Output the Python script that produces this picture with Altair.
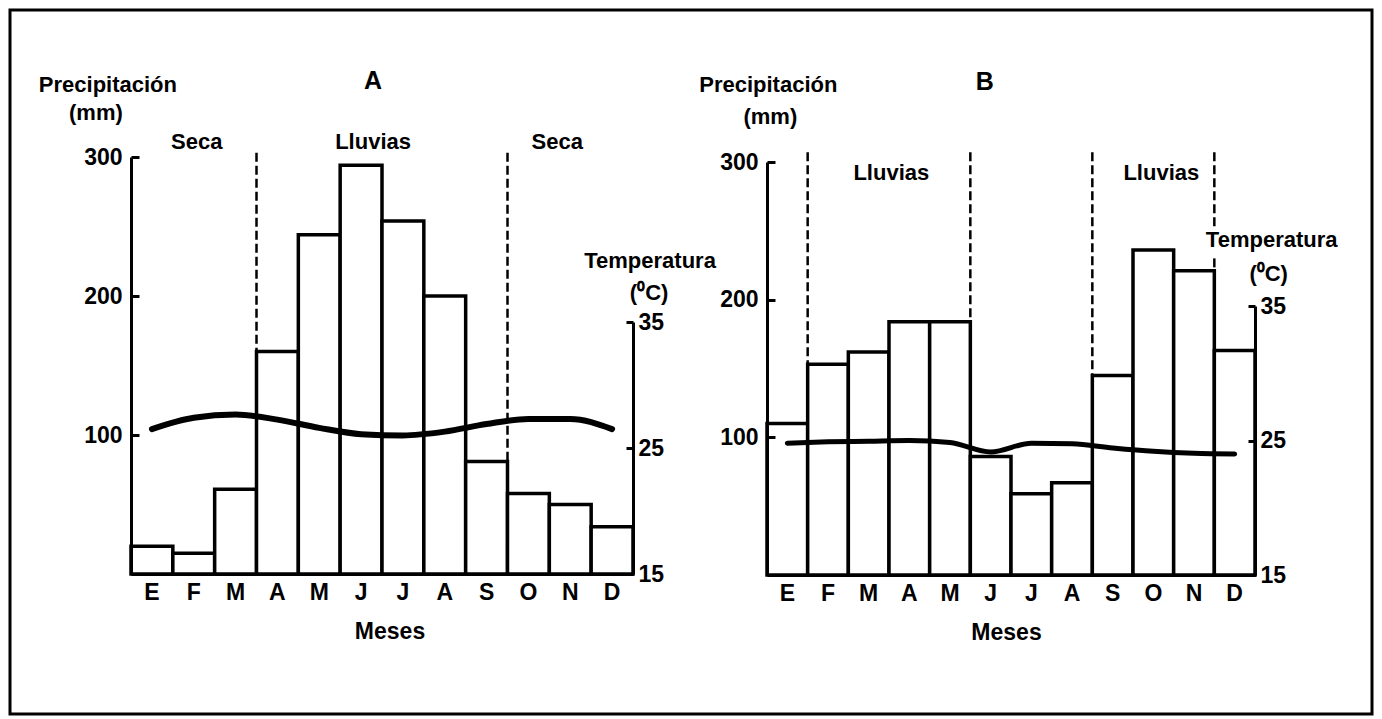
import altair as alt
import pandas as pd

# ---------------- data ----------------
meses = ["Ene", "Feb", "Mar", "Abr", "May", "Jun", "Jul", "Ago", "Sep", "Oct", "Nov", "Dic"]

precip_A = [20, 15, 61, 160, 244, 294, 254, 200, 81, 58, 50, 34]
temp_A = [26.5, 27.4, 27.65, 27.25, 26.6, 26.1, 26.0, 26.3, 26.9, 27.3, 27.3, 26.5]

precip_B = [110, 153, 162, 184, 184, 86, 59, 67, 145, 236, 221, 163]
temp_B = [24.8, 24.9, 24.95, 25.0, 24.85, 24.15, 24.8, 24.75, 24.45, 24.2, 24.05, 24.0]

# season boundaries (left edge of the month), dashed from top down to bars
divisiones_A = ["Abr", "Oct"]
divisiones_B = ["Feb", "Jun", "Sep", "Dic"]

# annotations: text, month anchor, value (mm), dx, font size
anot_A = [
    ("Precipitación", "Ene", 352, -44, 22),
    ("(mm)", "Ene", 332, -56, 22),
    ("A", "Jun", 355, 12, 25),
    ("Seca", "Feb", 311, 3, 22),
    ("Lluvias", "Jun", 311, 12, 22),
    ("Seca", "Nov", 311, -13, 22),
    ("Temperatura", "Dic", 225, 38, 22),
    ("(⁰C)", "Dic", 202, 37, 22),
]
anot_B = [
    ("Precipitación", "Ene", 356, -19, 22),
    ("(mm)", "Ene", 333, -17, 22),
    ("B", "Jun", 358, -6, 25),
    ("Lluvias", "Abr", 292, -18, 22),
    ("Lluvias", "Oct", 292, 8, 22),
    ("Temperatura", "Dic", 243, 37, 22),
    ("(⁰C)", "Dic", 219, 34, 22),
]

FONT = "Liberation Sans"
W, H = 1362, 704


def panel(precip, temp, xr, yr_p, yr_t, divisiones, top_div, gaps, anot, title_x, line_w):
    df = pd.DataFrame({"mes": meses, "precip": precip, "temp": temp,
                       "idx": list(range(len(meses)))})

    xscale = alt.Scale(domain=meses, range=xr, paddingInner=0, paddingOuter=0)
    pscale = alt.Scale(domain=[0, 300], range=yr_p, nice=False, zero=True)
    tscale = alt.Scale(domain=[15, 35], range=yr_t, nice=False, zero=False)

    x_axis = alt.Axis(
        orient="bottom", offset=yr_p[0] - H, ticks=False, domain=True,
        domainColor="black", domainWidth=3, grid=False,
        labelExpr="slice(datum.label, 0, 1)", labelAngle=0,
        labelFont=FONT, labelFontWeight="bold", labelFontSize=23,
        labelColor="black", labelPadding=7,
        title="Meses", titleFont=FONT, titleFontWeight="bold", titleFontSize=23,
        titleColor="black", titleX=title_x, titleY=57, titleAlign="center",
        titleBaseline="middle", zindex=1,
    )
    p_axis = alt.Axis(
        orient="right", offset=xr[0] - W, values=[100, 200, 300],
        tickSize=8, tickWidth=3, tickColor="black", domainColor="black",
        domainWidth=3, grid=False, labelAlign="right", labelPadding=-17,
        labelBaseline="middle", labelFont=FONT, labelFontWeight="bold",
        labelFontSize=23, labelColor="black", title=None, zindex=1,
    )
    t_axis = alt.Axis(
        orient="left", offset=-xr[1], values=[15, 25, 35],
        tickSize=7, tickWidth=3, tickColor="black", domainColor="black",
        domainWidth=3, grid=False, labelAlign="left", labelPadding=-12,
        labelBaseline="middle", labelFont=FONT, labelFontWeight="bold",
        labelFontSize=23, labelColor="black", title=None, zindex=1,
    )

    X = alt.X("mes:N", scale=xscale, axis=x_axis)
    bars = alt.Chart(df).mark_bar(fill="white", stroke="black", strokeWidth=3.5).encode(
        x=X, y=alt.Y("precip:Q", scale=pscale, axis=p_axis)
    )

    rows = []
    for m in divisiones:
        i = meses.index(m)
        low = max(precip[i - 1], precip[i])
        cuts = gaps.get(m)
        if cuts:
            rows.append({"mes": m, "top": top_div, "bottom": cuts[0]})
            rows.append({"mes": m, "top": cuts[1], "bottom": low})
        else:
            rows.append({"mes": m, "top": top_div, "bottom": low})
    ddf = pd.DataFrame(rows)
    dashed = alt.Chart(ddf).mark_rule(color="black", strokeWidth=2.5, strokeDash=[9, 4]).encode(
        x=alt.X("mes:N", scale=xscale, axis=x_axis, bandPosition=0),
        y=alt.Y("top:Q", scale=pscale, axis=p_axis),
        y2="bottom:Q",
    )

    texts = []
    for (t, m, v, dx, fs) in anot:
        tdf = pd.DataFrame({"t": [t], "mes": [m], "v": [v]})
        texts.append(
            alt.Chart(tdf).mark_text(font=FONT, fontWeight="bold", fontSize=fs,
                                     color="black", align="center", baseline="middle",
                                     dx=dx).encode(
                x=X, y=alt.Y("v:Q", scale=pscale, axis=p_axis), text="t:N"
            )
        )

    line = alt.Chart(df).mark_line(color="black", strokeWidth=line_w,
                                   interpolate="monotone", strokeCap="round").encode(
        x=X, y=alt.Y("temp:Q", scale=tscale, axis=t_axis), order=alt.Order("idx:Q")
    )

    precip_layer = alt.layer(bars, dashed, *texts)
    return alt.layer(precip_layer, line).resolve_scale(y="independent")


panelA = panel(precip_A, temp_A, [121, 623], [564, 147], [564, 312],
               divisiones_A, 303, {}, anot_A, 379.5, 6)
panelB = panel(precip_B, temp_B, [757, 1245], [565, 152], [565, 296],
               divisiones_B, 307, {"Dic": (252, 230)}, anot_B, 996, 5)

chart = (
    alt.layer(panelA, panelB)
    .resolve_scale(x="independent", y="independent")
    .properties(width=W, height=H, padding=2, background="white",
                autosize=alt.AutoSizeParams(type="none"))
    .configure_view(stroke="black", strokeWidth=3)
)

chart.save("out.html", embed_options={"renderer": "svg", "actions": False})
